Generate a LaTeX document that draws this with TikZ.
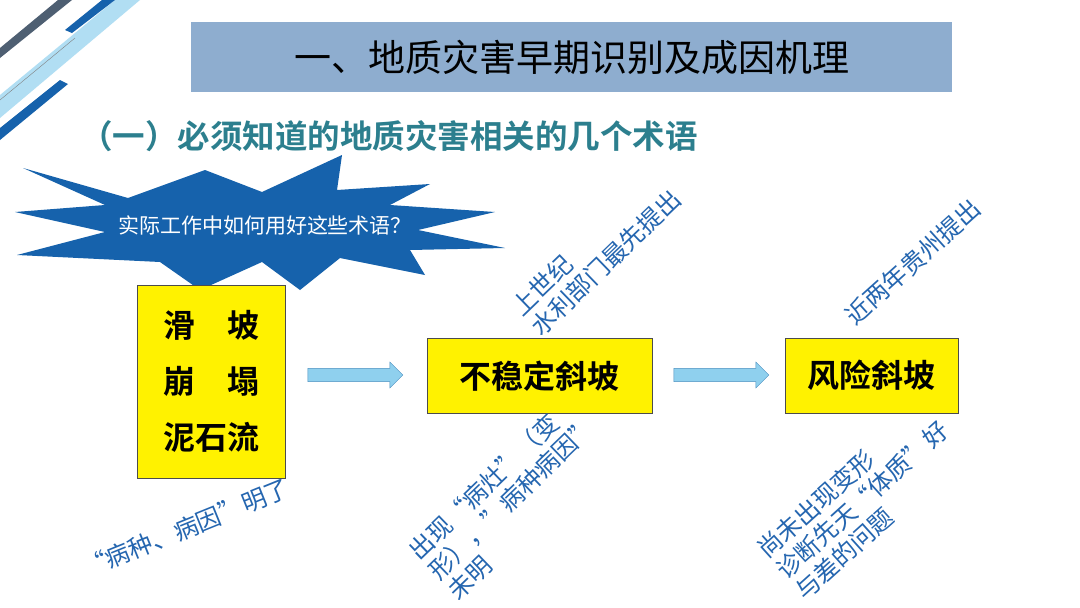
\documentclass[tikz,border=0pt]{standalone}
\usepackage{fontspec}
\newfontfamily\cjk{Noto Sans CJK SC}[BoldFont={Noto Sans CJK SC Bold}]
\usetikzlibrary{shapes.arrows}
\definecolor{titlebg}{HTML}{8EADCF}
\definecolor{subteal}{HTML}{2C7F8E}
\definecolor{starblue}{HTML}{1662AC}
\definecolor{noteblue}{HTML}{2566B0}
\definecolor{arrowfill}{HTML}{8FD0EE}
\definecolor{arrowline}{HTML}{4A8FC0}
\tikzset{
	term/.style={draw=black!70, fill=yellow, font={\cjk\bfseries\fontsize{32}{56}\selectfont}, align=center, inner sep=0pt},
	note/.style={text=noteblue, font={\cjk\fontsize{24.5}{28}\selectfont}, align=left, inner sep=0pt},
	flow/.style={single arrow, draw=arrowline, fill=arrowfill, minimum width=26pt, single arrow head extend=6pt,
		single arrow head indent=0pt, minimum height=95pt, inner xsep=0pt, inner ysep=6pt}
}
\begin{document}
\begin{tikzpicture}[x=1pt,y=-1pt]
	\useasboundingbox (0,0) rectangle (1080,608);
	\fill[white] (0,0) rectangle (1080,608);
	
	% corner stripes
	\begin{scope}
		\clip (0,0) rectangle (150,140);
		\fill[arrowfill!70] (0,95) -- (115,0) -- (140,0) -- (0,118) -- cycle;
		\fill[black!45!titlebg] (0,48) -- (58,0) -- (72,0) -- (0,58) -- cycle;
		\fill[starblue] (65,30) -- (102,0) -- (115,0) -- (72,33) -- cycle;
		\fill[starblue] (0,128) -- (60,80) -- (68,84) -- (0,140) -- cycle;
		\draw[black!50] (0,100) -- (75,38);
	\end{scope}
	
	% title
	\node[fill=titlebg, minimum width=761pt, minimum height=70pt, anchor=north west, inner sep=0pt,
		font={\cjk\fontsize{37}{42}\selectfont}] (title) at (191,22) {一、地质灾害早期识别及成因机理};
	\node[anchor=west, text=subteal, font={\cjk\bfseries\fontsize{32.5}{36}\selectfont}, inner sep=0pt] (subtitle) at (80,136)
		{（一）必须知道的地质灾害相关的几个术语};
	
	% starburst
	\fill[starblue] (23,168) -- (128,198) -- (205,170) -- (262,192) -- (342,155) -- (337,190) -- (430,184)
		-- (390,205) -- (495,212) -- (418,230) -- (505,248) -- (410,250) -- (425,275) -- (340,258)
		-- (300,290) -- (262,262) -- (200,290) -- (160,262) -- (17,255) -- (105,232) -- (15,212)
		-- (105,205) -- cycle;
	\node[text=white, font={\cjk\fontsize{21}{24}\selectfont}] (question) at (265,225) {实际工作中如何用好这些术语？};
	
	% terms
	\node[term, minimum width=148pt, minimum height=193pt, anchor=north west] (landslide) at (137,285)
		{滑\quad 坡\\崩\quad 塌\\泥石流};
	\node[term, minimum width=225pt, minimum height=75pt, anchor=north west] (unstable) at (427,338) {不稳定斜坡};
	\node[term, minimum width=173pt, minimum height=75pt, anchor=north west] (risk) at (785,338) {风险斜坡};
	
	\node[flow] (arrowA) at (352,375) {};
	\node[flow] (arrowB) at (718,375) {};
	
	% notes
	\node[note, rotate=44] (noteA) at (596,253) {上世纪\\水利部门最先提出};
	\node[note, rotate=42] (noteB) at (913,262) {近两年贵州提出};
	\node[note, rotate=22] (noteC) at (186,528) {“病种、病因”明了};
	\node[note, rotate=44] (noteD) at (512,498) {出现“病灶”（变\\形），”病种病因”\\未明};
	\node[note, rotate=42] (noteE) at (862,500) {尚未出现变形\\诊断先天“体质”好\\与差的问题};
\end{tikzpicture}
\end{document}
